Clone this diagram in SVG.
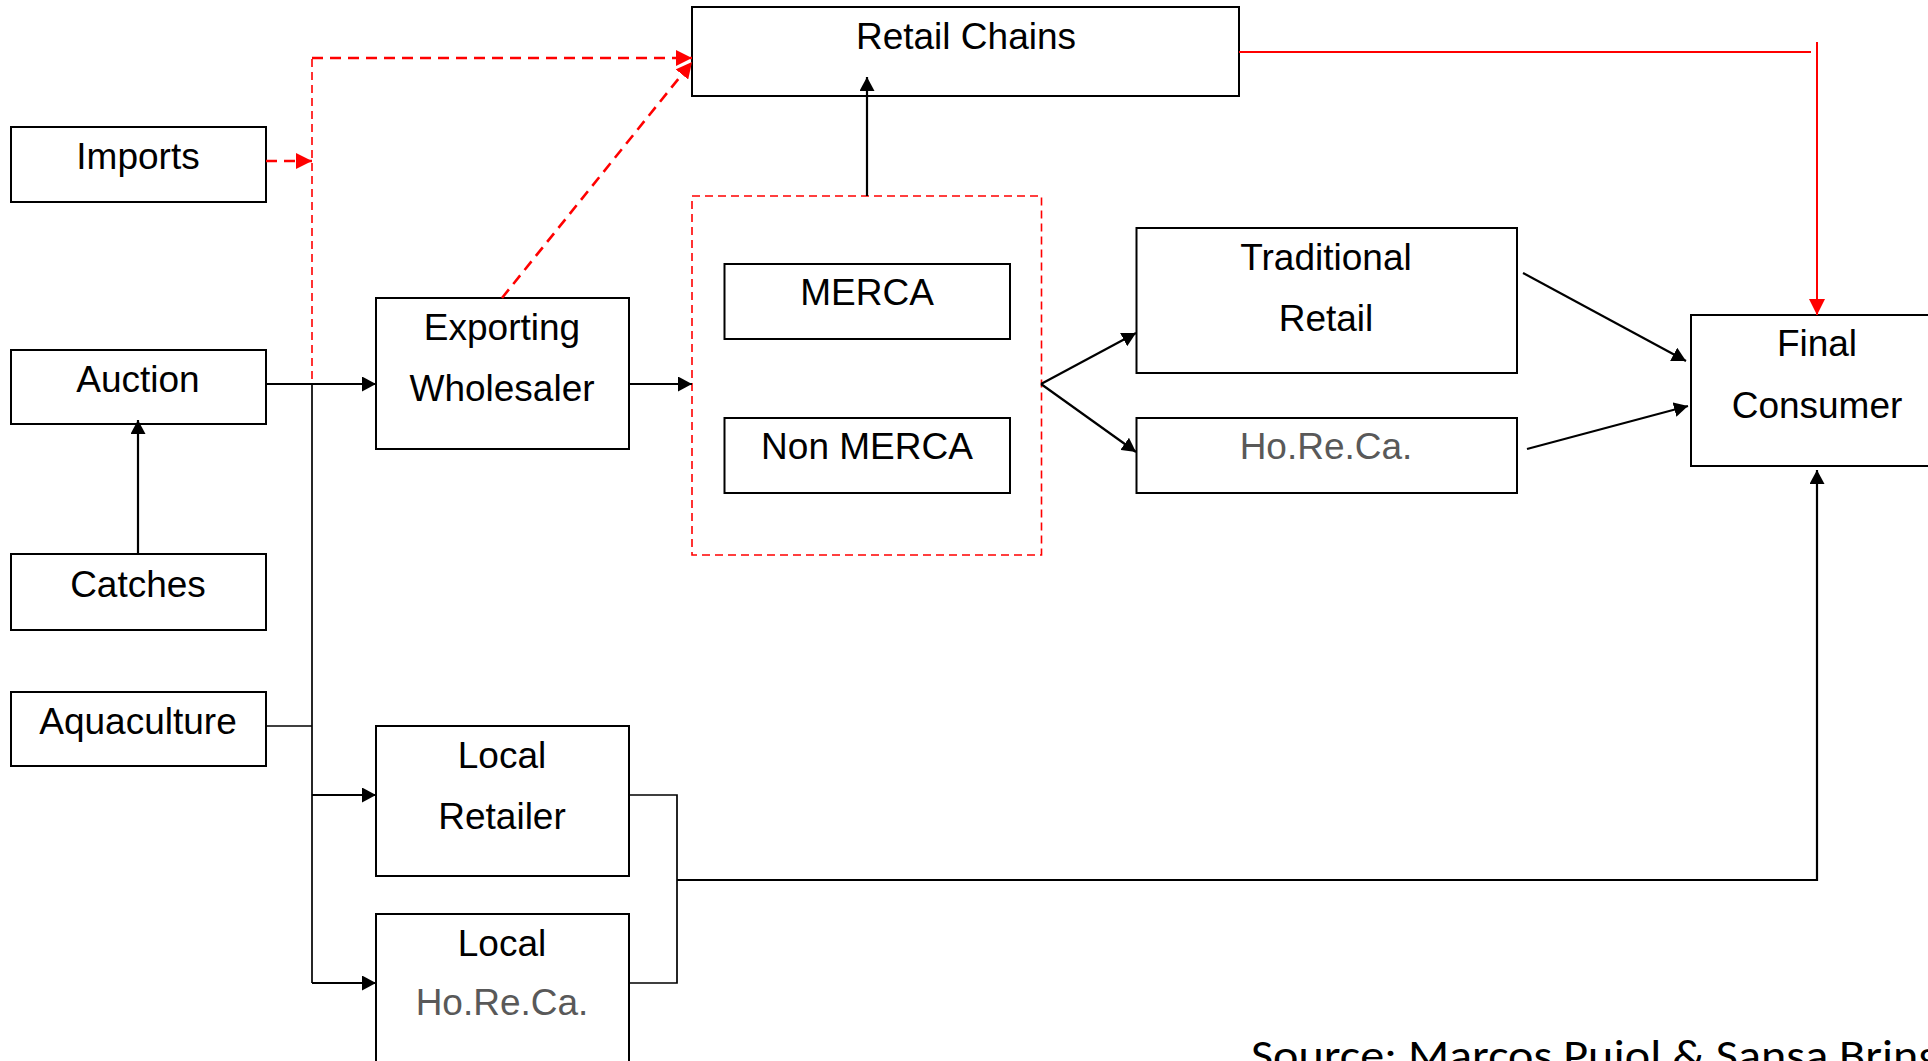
<svg xmlns="http://www.w3.org/2000/svg" width="1928" height="1061" viewBox="0 0 1928 1061">
<style>
.box{fill:#fff;stroke:#000;stroke-width:2}
.grp{fill:none;stroke:#f00;stroke-width:1.6;stroke-dasharray:8 5}
.t{font-family:"Liberation Sans",Arial,sans-serif;font-size:37px;fill:#000;text-anchor:middle}
.g{fill:#595959}
.c{fill:none;stroke:#000;stroke-width:2.2}
.cl{fill:none;stroke:#000;stroke-width:1.7}
.r{fill:none;stroke:#f00;stroke-width:2}
.rd{fill:none;stroke:#f00;stroke-width:2.6;stroke-dasharray:11 7}
.rdt{fill:none;stroke:#f00;stroke-width:1.6;stroke-dasharray:8 5}
.src{font-family:Carlito,"Open Sans",sans-serif;font-size:43px;fill:#000}
</style>
<defs>
<marker id="ab" markerUnits="userSpaceOnUse" markerWidth="14" markerHeight="15" refX="14" refY="7.5" orient="auto">
<path d="M0,0 L14,7.5 L0,15 z" fill="#000"/>
</marker>
<marker id="ar" markerUnits="userSpaceOnUse" markerWidth="16" markerHeight="16" refX="16" refY="8" orient="auto">
<path d="M0,0 L16,8 L0,16 z" fill="#f00"/>
</marker>
</defs>
<rect width="1928" height="1061" fill="#fff"/>

<g id="imports"><rect class="box" x="11" y="127" width="255" height="75"/><text class="t" x="138" y="169">Imports</text></g>
<g id="auction"><rect class="box" x="11" y="350" width="255" height="74"/><text class="t" x="138" y="392">Auction</text></g>
<g id="catches"><rect class="box" x="11" y="554" width="255" height="76"/><text class="t" x="138" y="597">Catches</text></g>
<g id="aquaculture"><rect class="box" x="11" y="692" width="255" height="74"/><text class="t" x="138" y="734">Aquaculture</text></g>
<g id="exporting-wholesaler"><rect class="box" x="376" y="298" width="253" height="151"/><text class="t" x="502" y="340">Exporting</text><text class="t" x="502" y="401">Wholesaler</text></g>
<g id="retail-chains"><rect class="box" x="692" y="7" width="547" height="89"/><text class="t" x="966" y="49">Retail Chains</text></g>
<g id="merca-group"><rect class="grp" x="692" y="196" width="349.5" height="359"/></g>
<g id="merca"><rect class="box" x="724.5" y="264" width="285.5" height="75"/><text class="t" x="867" y="305">MERCA</text></g>
<g id="non-merca"><rect class="box" x="724.5" y="418" width="285.5" height="75"/><text class="t" x="867" y="459">Non MERCA</text></g>
<g id="traditional-retail"><rect class="box" x="1136.5" y="228" width="380.5" height="145"/><text class="t" x="1326" y="270">Traditional</text><text class="t" x="1326" y="331">Retail</text></g>
<g id="horeca"><rect class="box" x="1136.5" y="418" width="380.5" height="75"/><text class="t g" x="1326" y="459">Ho.Re.Ca.</text></g>
<g id="final-consumer"><rect class="box" x="1691" y="315" width="300" height="151"/><text class="t" x="1817" y="356">Final</text><text class="t" x="1817" y="418">Consumer</text></g>
<g id="local-retailer"><rect class="box" x="376" y="726" width="253" height="150"/><text class="t" x="502" y="768">Local</text><text class="t" x="502" y="829">Retailer</text></g>
<g id="local-horeca"><rect class="box" x="376" y="914" width="253" height="170"/><text class="t" x="502" y="956">Local</text><text class="t g" x="502" y="1015">Ho.Re.Ca.</text></g>

<g id="connectors">
<line class="c" x1="138" y1="554" x2="138" y2="420" marker-end="url(#ab)"/>
<line class="c" x1="266" y1="384" x2="376" y2="384" marker-end="url(#ab)"/>
<line class="cl" x1="312" y1="384" x2="312" y2="983"/>
<line class="cl" x1="266" y1="726" x2="312" y2="726"/>
<line class="c" x1="312" y1="795" x2="376" y2="795" marker-end="url(#ab)"/>
<line class="c" x1="312" y1="983" x2="376" y2="983" marker-end="url(#ab)"/>
<line class="c" x1="629" y1="384" x2="692" y2="384" marker-end="url(#ab)"/>
<line class="c" x1="867" y1="196" x2="867" y2="77" marker-end="url(#ab)"/>
<line class="c" x1="1041" y1="384" x2="1136" y2="333" marker-end="url(#ab)"/>
<line class="c" x1="1041" y1="384" x2="1136" y2="452" marker-end="url(#ab)"/>
<line class="c" x1="1523" y1="273" x2="1686" y2="361" marker-end="url(#ab)"/>
<line class="c" x1="1527" y1="449" x2="1688" y2="406" marker-end="url(#ab)"/>
<polyline class="cl" points="629,795 677,795 677,983 629,983"/>
<polyline class="c" points="677,880 1817,880 1817,470" marker-end="url(#ab)"/>
<line class="r" x1="1239" y1="52" x2="1811" y2="52"/>
<line class="r" x1="1817" y1="42" x2="1817" y2="315" marker-end="url(#ar)"/>
<line class="rd" x1="266" y1="161" x2="312" y2="161" marker-end="url(#ar)"/>
<line class="rdt" x1="312" y1="59" x2="312" y2="384"/>
<line class="rd" x1="312" y1="58" x2="692" y2="58" marker-end="url(#ar)"/>
<line class="rd" x1="502" y1="298" x2="692" y2="62" marker-end="url(#ar)"/>
</g>

<text class="src" x="1251" y="1070" textLength="690" lengthAdjust="spacingAndGlyphs">Source: Marcos Pujol &amp; Sansa Bring</text>
</svg>
